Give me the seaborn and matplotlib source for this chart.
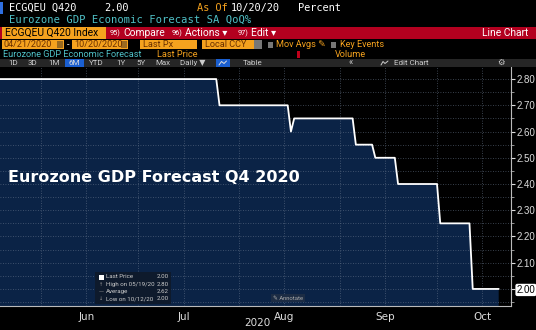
import matplotlib
matplotlib.use("Agg")
import matplotlib.pyplot as plt
import matplotlib.dates as mdates
from matplotlib.patches import Rectangle
from matplotlib.lines import Line2D
from matplotlib.ticker import MultipleLocator, FixedLocator
import seaborn as sns
import pandas as pd
import numpy as np

# ---------------- data ----------------
dates = ["2020-05-19", "2020-07-25", "2020-07-26", "2020-08-16", "2020-08-17",
         "2020-08-18", "2020-09-05", "2020-09-06", "2020-09-11", "2020-09-12",
         "2020-09-18", "2020-09-19", "2020-10-01", "2020-10-02", "2020-10-11",
         "2020-10-12", "2020-10-20"]
values = [2.80, 2.80, 2.70, 2.70, 2.60,
          2.65, 2.65, 2.55, 2.55, 2.50,
          2.50, 2.40, 2.40, 2.25, 2.25,
          2.00, 2.00]
y_ticks = [2.00, 2.10, 2.20, 2.30, 2.40, 2.50, 2.60, 2.70, 2.80]
month_labels = ["Jun", "Jul", "Aug", "Sep", "Oct"]
month_label_dates = ["2020-06-15", "2020-07-15", "2020-08-15", "2020-09-15", "2020-10-15"]
month_start_dates = ["2020-06-01", "2020-07-01", "2020-08-01", "2020-09-01", "2020-10-01"]
legend_rows = [("Last Price", "2.00"), ("High on 05/19/20", "2.80"),
               ("Average", "2.62"), ("Low on 10/12/20", "2.00")]

df = pd.DataFrame({"date": pd.to_datetime(dates), "value": values})

W, H = 536, 330
sns.set_style("dark")
plt.rcParams["font.family"] = ["DejaVu Sans"]
fig = plt.figure(figsize=(W / 100, H / 100), dpi=100, facecolor="black")

# plot area in pixels
PL, PR, PT, PB = 0, 511, 67, 306
ax = fig.add_axes([PL / W, 1 - PB / H, (PR - PL) / W, (PB - PT) / H])
ax.set_facecolor("black")

fill_c = "#0b2346"
ax.fill_between(mdates.date2num(df["date"]), df["value"], 1.0, color=fill_c, zorder=1, lw=0)
sns.lineplot(data=df, x="date", y="value", ax=ax, color="white", lw=1.3, zorder=3)

xl = mdates.date2num(pd.Timestamp("2020-05-19 09:00"))
xr = mdates.date2num(pd.Timestamp("2020-10-23 19:00"))
ax.set_xlim(xl, xr)
ax.set_ylim(1.935, 2.846)

# grid
grid_kw = dict(color="#6b7a8f", lw=0.6, ls=(0, (1, 2)), alpha=0.7, zorder=2)
for d in month_start_dates + month_label_dates:
    ax.axvline(mdates.date2num(pd.Timestamp(d)), **grid_kw)
for v in np.arange(1.95, 2.85, 0.05):
    ax.axhline(v, **grid_kw)

ax.yaxis.tick_right()
ax.yaxis.set_major_locator(FixedLocator(y_ticks))
ax.yaxis.set_minor_locator(MultipleLocator(0.05))
ax.set_yticklabels([f"{v:.2f}" for v in y_ticks], family=["Liberation Sans", "DejaVu Sans"])
ax.tick_params(axis="y", which="major", colors="#dddddd", labelsize=7.0, length=3,
               width=0.8, pad=1.0, direction="out")
ax.tick_params(axis="y", which="minor", colors="#aaaaaa", length=2, width=0.6)
for lab in ax.get_yticklabels():
    if lab.get_text() == "2.00":
        lab.set_color("black")
        lab.set_bbox(dict(boxstyle="round,pad=0.12,rounding_size=0.2", fc="white", ec="none"))

ax.xaxis.set_major_locator(FixedLocator(mdates.date2num(pd.to_datetime(month_start_dates))))
ax.set_xticklabels([])
ax.tick_params(axis="x", which="major", colors="#bbbbbb", length=2, width=0.8)
for d, lab in zip(month_label_dates, month_labels):
    ax.text(mdates.date2num(pd.Timestamp(d)), -0.025, lab, transform=ax.get_xaxis_transform(),
            ha="center", va="top", color="#dddddd", fontsize=7.5)
ax.set_xlabel("")
ax.set_ylabel("")
for s in ["top", "left"]:
    ax.spines[s].set_visible(False)
ax.spines["bottom"].set_color("#bbbbbb")
ax.spines["right"].set_color("#bbbbbb")
ax.spines["bottom"].set_linewidth(0.8)
ax.spines["right"].set_linewidth(0.8)

ax.text(8 / (PR - PL), 1 - (177 - PT) / (PB - PT), "Eurozone GDP Forecast Q4 2020",
        transform=ax.transAxes, color="white", fontsize=11.5, fontweight="bold",
        va="center", ha="left", zorder=5)


# ---------------- header helpers ----------------
def box(x0, y0, x1, y1, color, z=0):
    fig.patches.append(Rectangle((x0 / W, 1 - y1 / H), (x1 - x0) / W, (y1 - y0) / H,
                                 transform=fig.transFigure, color=color, zorder=z, lw=0))


def txt(x, y, s, color="white", size=7.5, family="Roboto", ha="left", **kw):
    fig.text(x / W, 1 - y / H, s, color=color, fontsize=size, family=[family, "DejaVu Sans"],
             ha=ha, va="center", zorder=10, **kw)


def seg(xs, ys, color, lw=0.8, z=11):
    fig.lines.append(Line2D([x / W for x in xs], [1 - y / H for y in ys],
                            transform=fig.transFigure, color=color, lw=lw, zorder=z))


mono = "DejaVu Sans Mono"
orange = "#f5a21e"
teal = "#4fc0c6"
red = "#b3001f"

# row 1
box(0, 2, 3, 14, "#2f6fe0")
txt(9, 8, "ECGQEU Q420", size=7.4, family=mono)
txt(104, 8, "2.00", size=7.4, family=mono)
txt(197, 8, "As Of", color=orange, size=7.4, family=mono)
txt(231, 8, "10/20/20", size=7.4, family=mono)
txt(298, 8, "Percent", size=7.4, family=mono)
# row 2
txt(9, 20, "Eurozone GDP Economic Forecast SA QoQ%", color=teal, size=7.6, family=mono)
# row 3
box(0, 27, W, 39, red)
box(2, 27, 106, 39, orange, z=1)
txt(5, 33, "ECGQEU Q420 Index", color="black", size=7.4)
txt(110, 33, "95)", size=5.3)
txt(123, 33, "Compare", size=7.4)
txt(172, 33, "96)", size=5.3)
txt(185, 33, "Actions ▾", size=7.4)
txt(238, 33, "97)", size=5.3)
txt(251, 33, "Edit ▾", size=7.4)
txt(528, 33, "Line Chart", size=7.4, ha="right")
# row 4
box(2, 40, 64, 49, orange)
txt(4, 44.5, "04/21/2020", color="#6a3000", size=6.6)
box(57, 41, 63, 48, "#9a6a20", z=1)
txt(67, 44.5, "-", size=6.6)
box(72, 40, 128, 49, orange)
txt(74, 44.5, "10/20/2020", color="#6a3000", size=6.6)
box(121, 41, 127, 48, "#9a6a20", z=1)
box(140, 40, 197, 49, orange)
txt(143, 44.5, "Last Px", color="#6a3000", size=6.6)
box(202, 40, 262, 49, orange)
txt(205, 44.5, "Local CCY", color="#6a3000", size=6.6)
box(254, 40, 262, 49, "#777777", z=1)
box(268, 41.5, 273, 47.5, "#777777")
txt(276, 44.5, "Mov Avgs ✎", color=orange, size=6.6)
box(331, 41.5, 336, 47.5, "#777777")
txt(340, 44.5, "Key Events", color=orange, size=6.6)
# row 5
txt(3, 54.5, "Eurozone GDP Economic Forecast", color=teal, size=6.6)
txt(157, 54.5, "Last Price", color=orange, size=6.6)
box(297, 51, 300, 58, "#c0001a")
txt(335, 54.5, "Volume", color=orange, size=6.6)
# row 6
box(0, 59, W, 67, "#262626")
for xx, lab in [(13, "1D"), (33, "3D"), (54, "1M"), (96, "YTD"), (121, "1Y"),
                (141, "5Y"), (163, "Max")]:
    txt(xx, 63, lab, color="#cccccc", size=5.8, ha="center")
box(65, 59, 84, 67, "#1b5fd0")
txt(74.5, 63, "6M", color="#dddddd", size=5.8, ha="center")
txt(180, 63, "Daily ▼", color="#cccccc", size=5.8)
box(216, 59, 230, 67, "#1b5fd0")
seg([219, 221.5, 224, 226.5], [65, 61.5, 63.5, 61], "#dddddd", lw=0.7)
txt(243, 63, "Table", color="#cccccc", size=5.8)
txt(351, 63, "«", color="#cccccc", size=6.5, ha="center")
seg([381, 383, 385, 388], [65, 61.5, 63.5, 61], "#cccccc", lw=0.7)
txt(394, 63, "Edit Chart", color="#cccccc", size=5.8)
txt(501, 63, "⚙", color="#cccccc", size=6, ha="center")

# bottom
txt(257, 323, "2020", color="#dddddd", size=7.5, family="DejaVu Sans", ha="center")

# legend box
box(95, 272, 171, 304, "#0e1a2c", z=5)
box(99, 274.5, 104, 279.5, "white", z=6)
ys = [277, 284.3, 291.6, 299]
marks = ["", "↑", "—", "↓"]
for (lab, val), y, m in zip(legend_rows, ys, marks):
    if m:
        txt(101.5, y, m, color="#999999", size=3.6, ha="center", family="DejaVu Sans")
    txt(106, y, lab, color="#cccccc", size=4.4)
    txt(169, y, val, color="#cccccc", size=4.4, ha="right")

# annotate box
box(271, 294, 305, 302, "#1c2c44", z=5)
txt(273, 298, "✎ Annotate", color="#aaaaaa", size=4.2)

fig.savefig("out.png", dpi=100, facecolor="black")
